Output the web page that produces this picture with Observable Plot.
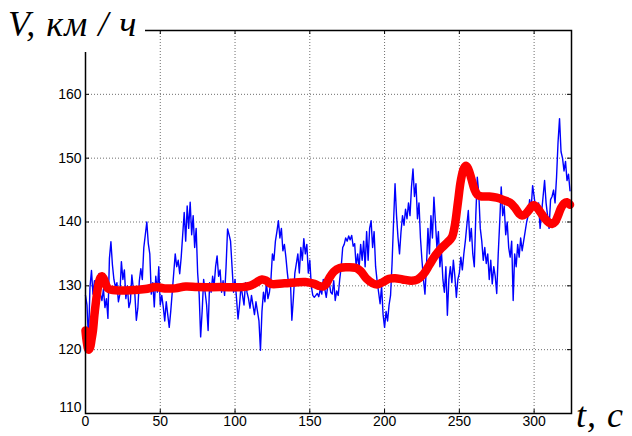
<!DOCTYPE html>
<html><head><meta charset="utf-8">
<script src="https://cdn.jsdelivr.net/npm/d3@7"></script>
<script src="https://cdn.jsdelivr.net/npm/@observablehq/plot@0.6"></script>
<style>
body{margin:0;background:#fff;}
#wrap{position:relative;width:632px;height:436px;overflow:hidden;}
.ttl{position:absolute;background:#fff;font-family:"Liberation Serif","Times New Roman",serif;font-style:italic;font-size:36px;line-height:36px;color:#000;white-space:pre;}
#ylab{left:0;top:0;width:145px;height:52px;}
#ylab span{position:absolute;left:8px;top:6px;letter-spacing:1px;}
#xlab{left:576px;top:397px;letter-spacing:1px;background:transparent;}
</style>
</head><body>
<div id="wrap">
<div id="chart"></div>
<div class="ttl" id="ylab"><span>V, км / ч</span></div>
<div class="ttl" id="xlab">t, c</div>
</div>
<script>
// tick values
const xTicks = [0, 50, 100, 150, 200, 250, 300];
const yTicks = [110, 120, 130, 140, 150, 160];

// measured speed, one sample per second starting at t = 0
const blueV = [
128.5,127,121.5,129.8,132.4,128.7,130.8,126,125.6,131.9,
128.7,127.7,129.5,126.6,128,124.9,134.3,136.9,133.3,131,
129.8,130.5,127.5,128.7,133.8,131,132.5,128,130,126.6,
127.5,131.7,129.5,128.7,124.6,126.5,130.8,132.7,131,136,
138,140,136.6,135,128.7,130.5,126.7,131.5,129,133,
127,128.5,126.7,124.5,127.5,125.5,123.5,126,129,132,
135,133,134,131.9,134.5,138,141.5,137,142.5,139,
143.1,138,141,136,139,132,128.7,122,126,131,
129,127,123,130.5,129,131.5,130,133,134.7,131.5,
132.5,129,130.8,128.5,133,138.9,138,137,133,129,
131,128,124.8,127,130,128.5,127,130.5,129,128,
126.5,128.5,127,125.5,127.5,126,124.5,119.9,126,129,
127.5,130.5,128,129,131,135,134,137,138.5,140.2,
137.5,139,135.5,136.5,134.5,132,130,131,124.6,128,
132,133.5,135,132,136,134,137.4,135,136.5,132,
134,130,128.5,128.2,128.5,128.8,128.3,129.5,128.7,131,
129.5,128.2,130,130.5,129,128.7,130.8,127.7,129.2,128.5,
131,133,136,136.5,137.5,137,137.8,137.2,137.9,136.2,
136.6,133,135,132.9,136.5,134,137,133,138.5,134,
139,140.2,136,138.5,133,130.8,129,127.2,130,125.5,
123.5,126,124.5,127,128.5,133.5,140,146,141,137.5,
135,138.5,141,139.5,142,140.5,143,141,145.5,148.3,
144,146,140.5,143,137.5,134,131,128.7,133,139,
135,141,137.5,143.9,140,136,138.5,133,135.5,131,
129,133,125.4,131,133,130.5,134,131.5,128.2,131,
132,134.5,132.5,135,137,139.5,141.8,137,139,135,
133,141,147,144.5,139,137,134,136,133.5,135,
131,134,130.3,133,131.5,128.8,135,140,145.5,141,
142.5,138,140,136,134.5,137,127.7,135,133,136.5,
134.5,137.5,135.5,137,138.5,140,141,143.5,142,145.7,
144,142,141.5,143,139,141.5,144,146.5,143,141,
139,143.5,144,145,143,147,152.5,156.2,151,150,
148,149.5,146.5,147.5,144.9
];

// model speed (smooth curve)
const redT = [0,1,2,3,4,5,6,7,8,9,10,11,12,13,14,15,17,20,30,40,47,53,60,67,75,90,105,110,114,118,121,124,133,147,153,156,159,161,163,166,170,175,181,184,188,192,195,199,203,207,212,218,222,226,230,234,238,242,245,247,249,251,253,254.5,256,258,260,262,265,270,275,280,284,287,290,292,294,297,299,301,304,307,310,312,314,316,318,320,322,324];
const redV = [123,121,120,120.3,121.5,123,125.5,127.5,129.3,130.6,131.3,131.5,131.2,130.6,130,129.6,129.4,129.3,129.3,129.5,129.8,129.6,129.6,129.9,129.8,129.8,129.8,130,130.5,131,130.8,130.3,130.4,130.6,130.3,130,129.9,130.3,131.2,132.2,132.8,132.9,132.8,132.3,131.1,130.4,130.2,130.6,131.1,131.2,131,130.8,131,131.8,133.3,134.8,135.9,136.8,137.6,139.5,143,146.5,148.4,148.8,148.3,146.8,145.2,144.3,144,144,143.8,143.4,143,142.3,141.3,141,141.2,142,142.6,142.5,141.6,140.6,139.9,139.7,140,141,142.2,142.9,143.1,142.7];

const blue = blueV.map((v, i) => ({t: i, v}));
const red = redT.map((t, i) => ({t, v: redV[i]}));

const W = 632, H = 436, mL = 85, mT = 30, mR = 61, mB = 23;
const innerW = W - mL - mR, innerH = H - mT - mB;
const gridStyle = {stroke: "#6e6e6e", strokeOpacity: 1, strokeWidth: 1, strokeDasharray: "1,2"};

const chart = Plot.plot({
  width: W, height: H,
  marginLeft: mL, marginTop: mT, marginRight: mR, marginBottom: mB,
  style: {fontFamily: "'Liberation Sans', Arial, sans-serif", fontSize: "14px", background: "white", color: "black"},
  x: {domain: [0, 325]},
  y: {domain: [110, 170]},
  marks: [
    Plot.gridX(xTicks.filter(d => d > 0), gridStyle),
    Plot.gridY(yTicks.filter(d => d > 110), gridStyle),
    Plot.tickX(xTicks, {x: d => d, stroke: "black", insetTop: innerH - 4}),
    Plot.tickX(xTicks, {x: d => d, stroke: "black", insetBottom: innerH - 4}),
    Plot.tickY(yTicks, {y: d => d, stroke: "black", insetRight: innerW - 4}),
    Plot.tickY(yTicks, {y: d => d, stroke: "black", insetLeft: innerW - 4}),
    Plot.axisX(xTicks, {tickSize: 0, tickPadding: 3, fontSize: 14, label: null}),
    Plot.axisY(yTicks.filter(d => d > 110), {tickSize: 0, tickPadding: 4, fontSize: 14, label: null}),
    Plot.axisY([110], {tickSize: 0, tickPadding: 4, fontSize: 14, label: null, dy: -6}),
    Plot.line(blue, {x: "t", y: "v", stroke: "#0000ff", strokeWidth: 1.4}),
    Plot.line(red, {x: "t", y: "v", stroke: "#ff0000", strokeWidth: 8.5, curve: "catmull-rom", strokeLinecap: "round", strokeLinejoin: "round"}),
    Plot.frame({stroke: "black", strokeWidth: 1.5})
  ]
});
document.getElementById("chart").appendChild(chart);
</script>
</body></html>
